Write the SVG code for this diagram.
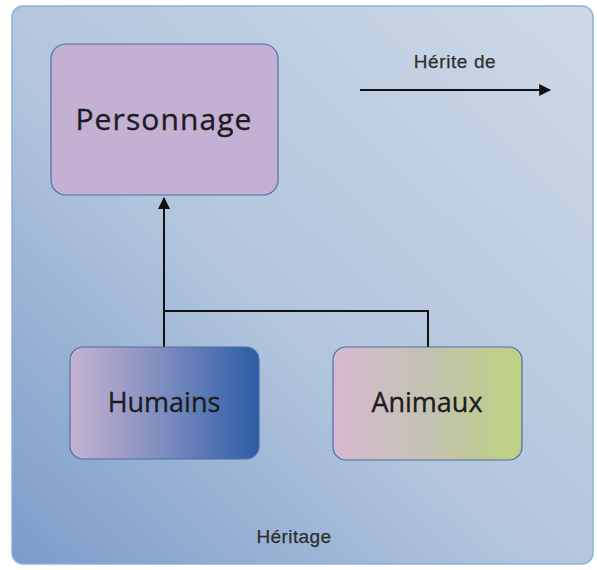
<svg xmlns="http://www.w3.org/2000/svg" width="597" height="570" viewBox="0 0 597 570">
  <defs>
    <linearGradient id="bg" x1="0" y1="1" x2="1" y2="0">
      <stop offset="0" stop-color="#7b9cca"/>
      <stop offset="0.45" stop-color="#b2c5dd"/>
      <stop offset="1" stop-color="#cdd9e7"/>
    </linearGradient>
    <linearGradient id="gHumains" x1="0" y1="0" x2="1" y2="0">
      <stop offset="0" stop-color="#c6b3d3"/>
      <stop offset="0.5" stop-color="#7d8cbf"/>
      <stop offset="1" stop-color="#2b5ca7"/>
    </linearGradient>
    <linearGradient id="gAnimaux" x1="0" y1="0" x2="1" y2="0">
      <stop offset="0" stop-color="#d6b8d2"/>
      <stop offset="0.5" stop-color="#c3c2b2"/>
      <stop offset="1" stop-color="#bcd180"/>
    </linearGradient>
    <marker id="arrow" viewBox="0 0 10 10" refX="9" refY="5" markerWidth="12" markerHeight="12" markerUnits="userSpaceOnUse" orient="auto">
      <path d="M0,0 L10,5 L0,10 z" fill="#111"/>
    </marker>
    <marker id="arrowBig" viewBox="0 0 12 12" refX="11" refY="6" markerWidth="12" markerHeight="12" markerUnits="userSpaceOnUse" orient="auto">
      <path d="M0,0 L12,6 L0,12 z" fill="#111"/>
    </marker>
  </defs>
  <style>
    .box { stroke: #4f6fa3; stroke-width: 1.2; }
    .lbl { font-family: "Open Sans", "Noto Sans", sans-serif; fill: #1c1c22; stroke: #1c1c22; stroke-width: 0.35; text-anchor: middle; }
    .small { font-family: "Liberation Sans", Arial, sans-serif; font-size: 19px; fill: #2e2e2e; stroke: #2e2e2e; stroke-width: 0.25; text-anchor: middle; }
    .edge { fill: none; stroke: #111; stroke-width: 2; }
  </style>

  <!-- frame -->
  <rect x="12" y="6" width="581" height="558" rx="11" fill="url(#bg)" stroke="#8fb0dc" stroke-width="1.5"/>

  <!-- legend -->
  <g id="legend">
    <text class="small" x="455" y="68" letter-spacing="0.6">Hérite de</text>
    <line class="edge" x1="360" y1="90" x2="550" y2="90" marker-end="url(#arrow)"/>
  </g>

  <!-- connectors -->
  <g id="connectors">
    <path class="edge" d="M164,347 L164,198" marker-end="url(#arrowBig)"/>
    <path class="edge" d="M164,311 L428,311 L428,347"/>
  </g>

  <g id="personnage">
    <rect class="box" x="51" y="44" width="227" height="151" rx="15" fill="#c3b0d2"/>
    <text class="lbl" x="164" y="130" font-size="30" letter-spacing="1.1">Personnage</text>
  </g>

  <g id="humains">
    <rect class="box" x="70" y="347" width="189" height="112" rx="13" fill="url(#gHumains)"/>
    <text class="lbl" x="164" y="412" font-size="27">Humains</text>
  </g>

  <g id="animaux">
    <rect class="box" x="333" y="347" width="189" height="113" rx="13" fill="url(#gAnimaux)"/>
    <text class="lbl" x="427" y="412" font-size="27">Animaux</text>
  </g>

  <text class="small" x="294" y="543" letter-spacing="0.4">Héritage</text>
</svg>
